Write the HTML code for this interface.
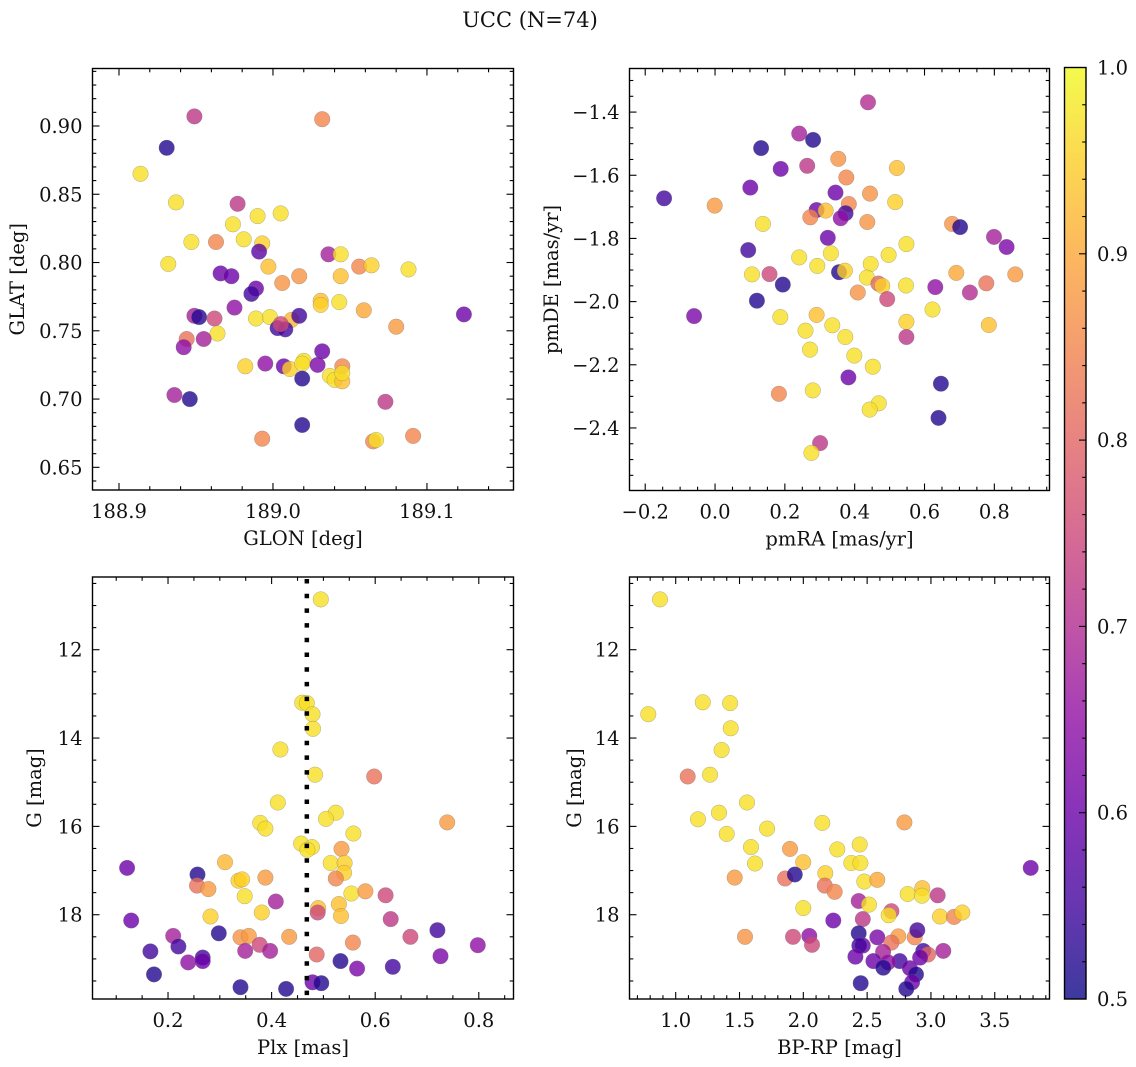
<!DOCTYPE html>
<html><head><meta charset="utf-8">
<style>
html,body{margin:0;padding:0;background:#fff;}
svg{display:block;font-family:"DejaVu Serif","Liberation Serif",serif;}
</style></head>
<body>
<svg id="fig" width="1136" height="1067" viewBox="0 0 1136 1067" xmlns="http://www.w3.org/2000/svg">
<rect width="1136" height="1067" fill="#fff"/>
<text x="530" y="27" text-anchor="middle" font-size="21" fill="#111">UCC (N=74)</text>
</svg>
<script>
// ---------- data ----------
const glon = [188.949,189.032,188.931,188.914,188.937,188.977,188.990,189.005,188.974,188.947,188.963,188.981,188.993,188.991,189.036,189.044,188.932,188.997,189.056,189.064,189.088,188.966,188.973,189.017,189.044,189.006,188.989,188.986,189.031,189.031,189.043,188.975,189.059,189.124,188.949,188.952,188.962,188.989,188.998,189.012,189.017,189.003,189.008,189.005,189.080,188.964,188.944,188.955,188.942,189.032,188.982,188.995,189.007,189.011,189.020,189.019,189.029,189.045,189.037,189.040,189.045,189.045,189.019,188.936,188.946,189.073,189.019,188.993,189.065,189.067,189.091];
const glat = [0.907,0.905,0.884,0.865,0.844,0.843,0.834,0.836,0.828,0.815,0.815,0.817,0.814,0.808,0.806,0.806,0.799,0.797,0.797,0.798,0.795,0.792,0.790,0.790,0.790,0.785,0.781,0.777,0.772,0.769,0.771,0.767,0.765,0.762,0.761,0.760,0.759,0.759,0.760,0.758,0.761,0.752,0.751,0.755,0.753,0.748,0.744,0.744,0.738,0.735,0.724,0.726,0.724,0.722,0.728,0.726,0.725,0.724,0.717,0.714,0.713,0.719,0.715,0.703,0.700,0.698,0.681,0.671,0.669,0.670,0.673];
const prob1 = [0.72,0.85,0.52,0.97,0.97,0.72,0.97,0.97,0.97,0.97,0.85,0.97,0.95,0.58,0.68,0.97,0.97,0.93,0.85,0.95,0.97,0.6,0.6,0.87,0.93,0.87,0.6,0.55,0.93,0.95,0.97,0.65,0.9,0.6,0.68,0.52,0.75,0.97,0.97,0.92,0.55,0.55,0.55,0.75,0.88,0.97,0.82,0.68,0.65,0.6,0.95,0.65,0.6,0.95,0.97,0.97,0.62,0.85,0.97,0.97,0.93,0.97,0.52,0.68,0.52,0.72,0.52,0.85,0.85,0.97,0.85];

const pmra = [0.438,0.241,0.281,0.132,0.353,0.188,0.264,0.521,0.376,0.101,-0.146,0.345,0.444,-0.001,0.516,0.291,0.317,0.383,0.374,0.273,0.360,0.436,0.137,0.679,0.702,0.323,0.799,0.835,0.095,0.548,0.241,0.332,0.497,0.293,0.446,0.355,0.372,0.106,0.156,0.691,0.860,0.435,0.194,0.468,0.479,0.547,0.631,0.777,0.409,0.730,0.493,0.120,-0.060,0.187,0.291,0.623,0.259,0.336,0.548,0.784,0.373,0.548,0.272,0.399,0.452,0.382,0.647,0.183,0.280,0.469,0.443,0.640,0.301,0.276];
const pmde = [-1.369,-1.468,-1.488,-1.514,-1.548,-1.580,-1.570,-1.577,-1.607,-1.639,-1.673,-1.655,-1.658,-1.696,-1.685,-1.710,-1.712,-1.691,-1.720,-1.733,-1.736,-1.748,-1.754,-1.754,-1.764,-1.798,-1.795,-1.827,-1.837,-1.818,-1.860,-1.847,-1.852,-1.887,-1.881,-1.907,-1.902,-1.914,-1.913,-1.909,-1.914,-1.924,-1.946,-1.943,-1.950,-1.949,-1.954,-1.942,-1.971,-1.971,-1.992,-1.997,-2.046,-2.049,-2.042,-2.025,-2.092,-2.075,-2.064,-2.074,-2.112,-2.112,-2.152,-2.171,-2.206,-2.240,-2.260,-2.292,-2.281,-2.322,-2.342,-2.368,-2.448,-2.479];
const prob2 = [0.7,0.68,0.52,0.52,0.87,0.6,0.72,0.93,0.85,0.6,0.55,0.6,0.87,0.88,0.95,0.6,0.93,0.85,0.55,0.85,0.65,0.87,0.97,0.87,0.52,0.6,0.68,0.62,0.55,0.97,0.97,0.97,0.97,0.97,0.97,0.52,0.95,0.97,0.75,0.9,0.88,0.97,0.52,0.8,0.95,0.97,0.65,0.82,0.87,0.7,0.75,0.52,0.62,0.97,0.93,0.97,0.97,0.97,0.95,0.93,0.97,0.72,0.97,0.97,0.97,0.6,0.52,0.85,0.97,0.97,0.97,0.52,0.72,0.97];

const plx = [0.495,0.459,0.468,0.479,0.480,0.417,0.484,0.598,0.412,0.739,0.378,0.388,0.524,0.505,0.558,0.457,0.478,0.469,0.535,0.514,0.541,0.540,0.524,0.121,0.310,0.257,0.256,0.278,0.336,0.343,0.388,0.348,0.554,0.581,0.620,0.408,0.530,0.490,0.489,0.534,0.381,0.282,0.129,0.630,0.210,0.298,0.340,0.356,0.434,0.668,0.720,0.798,0.220,0.166,0.377,0.349,0.397,0.557,0.487,0.726,0.239,0.267,0.267,0.533,0.565,0.634,0.173,0.340,0.428,0.479,0.496];
const gmag3 = [10.86,13.20,13.21,13.46,13.79,14.26,14.83,14.87,15.46,15.91,15.92,16.05,15.69,15.83,16.16,16.39,16.47,16.53,16.51,16.83,16.83,17.05,17.18,16.94,16.81,17.09,17.34,17.42,17.23,17.20,17.16,17.58,17.52,17.47,17.56,17.70,17.76,17.85,17.95,18.03,17.95,18.04,18.13,18.10,18.48,18.42,18.51,18.48,18.50,18.50,18.35,18.69,18.72,18.83,18.68,18.82,18.82,18.63,18.90,18.94,19.08,18.97,19.05,19.05,19.22,19.18,19.35,19.64,19.68,19.53,19.55];
const prob3 = [0.97,0.97,0.97,0.97,0.97,0.97,0.97,0.82,0.97,0.88,0.97,0.97,0.97,0.97,0.97,0.97,0.97,0.97,0.88,0.97,0.95,0.95,0.85,0.6,0.92,0.52,0.82,0.88,0.95,0.95,0.88,0.97,0.97,0.88,0.75,0.68,0.93,0.93,0.75,0.93,0.95,0.95,0.6,0.72,0.68,0.52,0.87,0.88,0.88,0.75,0.55,0.65,0.55,0.55,0.75,0.68,0.68,0.85,0.8,0.62,0.65,0.55,0.6,0.52,0.62,0.55,0.52,0.52,0.52,0.6,0.52];

const bprp = [0.877,0.785,1.212,1.426,1.431,1.360,1.094,1.269,1.559,1.175,1.339,1.400,1.716,2.149,2.792,1.590,1.621,1.896,2.266,2.442,1.999,2.376,2.447,1.462,1.857,1.933,2.172,2.168,2.246,2.478,2.580,2.818,2.932,2.930,3.053,3.782,2.434,2.515,2.000,2.690,2.669,3.071,3.181,3.246,2.235,2.466,1.543,1.919,2.047,2.068,2.434,2.580,2.744,2.873,2.893,2.690,2.466,2.439,2.625,3.097,2.940,2.977,2.408,2.549,2.755,2.915,2.664,2.627,2.835,2.883,2.852,2.450,2.807];
const gmag4 = [10.86,13.46,13.19,13.21,13.78,14.27,14.87,14.83,15.46,15.84,15.69,16.17,16.05,15.92,15.91,16.47,16.84,16.51,16.52,16.41,16.81,16.83,16.83,17.16,17.18,17.09,17.06,17.34,17.48,17.25,17.21,17.53,17.40,17.57,17.56,16.94,17.69,17.77,17.85,17.92,18.01,18.04,18.05,17.95,18.13,18.10,18.50,18.50,18.48,18.68,18.42,18.51,18.49,18.51,18.35,18.63,18.70,18.70,18.84,18.82,18.82,18.90,18.95,19.05,19.05,18.97,19.08,19.20,19.21,19.35,19.53,19.55,19.68];
const prob4 = [0.97,0.97,0.97,0.97,0.97,0.97,0.82,0.97,0.97,0.97,0.97,0.97,0.97,0.97,0.88,0.97,0.97,0.88,0.97,0.97,0.93,0.97,0.97,0.88,0.82,0.52,0.95,0.82,0.85,0.97,0.9,0.97,0.93,0.97,0.72,0.6,0.68,0.97,0.97,0.75,0.97,0.95,0.85,0.95,0.6,0.72,0.87,0.75,0.65,0.75,0.52,0.62,0.88,0.85,0.55,0.82,0.6,0.55,0.68,0.68,0.55,0.8,0.6,0.6,0.55,0.6,0.65,0.52,0.6,0.52,0.6,0.52,0.52];

const plxLine = 0.468;
const cbarTicks = [0.5,0.6,0.7,0.8,0.9,1.0];

// ---------- rendering ----------
const NS = 'http://www.w3.org/2000/svg';
const svg = document.getElementById('fig');
const FS = 19.5;
const plasma = [[13,8,135],[65,4,157],[106,0,168],[143,13,164],[177,42,144],[204,71,120],[225,100,98],[242,132,75],[252,166,54],[252,206,37],[240,249,33]];
function cmap(p){
  let t = Math.max(0, Math.min(1, (p-0.5)/0.5)) * 10;
  let i = Math.min(9, Math.floor(t)), f = t - i;
  const a = plasma[i], b = plasma[i+1];
  return 'rgb(' + [0,1,2].map(k => Math.round(a[k]+(b[k]-a[k])*f)).join(',') + ')';
}
function el(tag, attrs, parent){
  const e = document.createElementNS(NS, tag);
  for (const k in attrs) e.setAttribute(k, attrs[k]);
  (parent || svg).appendChild(e);
  return e;
}
function fmt(v, d){ const s = v.toFixed(d); return s.replace('-', '\u2212'); }

function panel(cfg, xs, ys, ps){
  const [X0,Y0,X1,Y1] = cfg.box;
  const g = el('g', {});
  
  
  const sx = v => X0 + (v - cfg.xlim[0])/(cfg.xlim[1]-cfg.xlim[0])*(X1-X0);
  const sy = v => cfg.yinv ? Y0 + (v - cfg.ylim[0])/(cfg.ylim[1]-cfg.ylim[0])*(Y1-Y0)
                           : Y1 - (v - cfg.ylim[0])/(cfg.ylim[1]-cfg.ylim[0])*(Y1-Y0);
  const pts = el('g', {}, g);
  
  
  for (let i = 0; i < xs.length; i++){
    const c = el('circle', {cx: sx(xs[i]).toFixed(1), cy: sy(ys[i]).toFixed(1), r: 7.8, fill: cmap(ps[i]), 'fill-opacity': 0.8, stroke: '#777', 'stroke-width': 0.4, 'stroke-opacity': 0.7}, pts);
    
    
  }
  if (cfg.vline !== undefined){
    const l = el('line', {x1: sx(cfg.vline), x2: sx(cfg.vline), y1: Y0+2, y2: Y1, stroke: '#000', 'stroke-width': 4.5, 'stroke-dasharray': '4.5 10.2'}, g);
    
    
  }
  const tk = el('g', {stroke: '#000', 'stroke-width': 1.1}, g);
  
  
  const isMaj = (v, arr) => arr.some(m => Math.abs(m - v) < 1e-6);
  function ticksX(vals, len){
    vals.forEach(v => { const x = sx(v); if (x < X0-0.5 || x > X1+0.5) return;
      el('line', {x1:x, x2:x, y1:Y1, y2:Y1-len}, tk); el('line', {x1:x, x2:x, y1:Y0, y2:Y0+len}, tk); });
  }
  function ticksY(vals, len){
    vals.forEach(v => { const y = sy(v); if (y < Y0-0.5 || y > Y1+0.5) return;
      el('line', {x1:X0, x2:X0+len, y1:y, y2:y}, tk); el('line', {x1:X1, x2:X1-len, y1:y, y2:y}, tk); });
  }
  const minors = (lim, step, maj) => { const out=[]; const a=Math.min(...lim), b=Math.max(...lim);
    for (let k=Math.ceil(a/step-1e-9); k<=Math.floor(b/step+1e-9); k++){ const v=k*step; if(!isMaj(v,maj)) out.push(v);} return out; };
  ticksX(cfg.xt, 7); ticksX(minors(cfg.xlim, cfg.xm, cfg.xt), 3.8);
  ticksY(cfg.yt, 7); ticksY(minors(cfg.ylim, cfg.ym, cfg.yt), 3.8);
  const fr = el('rect', {x:X0, y:Y0, width:X1-X0, height:Y1-Y0, fill:'none', stroke:'#000', 'stroke-width':1.4}, g);
  
  
  cfg.xt.forEach(v => { const t = el('text', {x: sx(v), y: Y1+28, 'text-anchor':'middle', 'font-size':FS, fill:'#111'}, g);
    t.textContent = fmt(v, cfg.xd);
    
     });
  cfg.yt.forEach(v => { const t = el('text', {x: X0-10, y: sy(v)+7, 'text-anchor':'end', 'font-size':FS, fill:'#111'}, g);
    t.textContent = fmt(v, cfg.yd);
    
     });
  const xl = el('text', {x:(X0+X1)/2, y:Y1+55, 'text-anchor':'middle', 'font-size':FS, fill:'#111'}, g);
  xl.textContent = cfg.xlabel;
  
  
  const yc = (Y0+Y1)/2;
  const yl = el('text', {x:cfg.ylx, y:yc, 'text-anchor':'middle', 'font-size':FS, fill:'#111', transform:'rotate(-90 '+cfg.ylx+' '+yc+')'}, g);
  yl.textContent = cfg.ylabel;
  
  
}

panel({name:'glon-glat-panel', box:[92.5,68.5,513.5,490], xlim:[188.8828,189.1562], ylim:[0.6334,0.9421],
  xt:[188.9,189.0,189.1], xm:0.02, xd:1, yt:[0.65,0.70,0.75,0.80,0.85,0.90], ym:0.01, yd:2,
  xlabel:'GLON [deg]', ylabel:'GLAT [deg]', ylx:24}, glon, glat, prob1);
panel({name:'pm-panel', box:[629.5,68.5,1049.5,490.5], xlim:[-0.245,0.958], ylim:[-2.598,-1.262],
  xt:[-0.2,0,0.2,0.4,0.6,0.8], xm:0.05, xd:1, yt:[-2.4,-2.2,-2.0,-1.8,-1.6,-1.4], ym:0.05, yd:1,
  xlabel:'pmRA [mas/yr]', ylabel:'pmDE [mas/yr]', ylx:558}, pmra, pmde, prob2);
panel({name:'plx-g-panel', box:[92.5,577,513.5,999], xlim:[0.0542,0.867], ylim:[10.354,19.908], yinv:true,
  xt:[0.2,0.4,0.6,0.8], xm:0.05, xd:1, yt:[12,14,16,18], ym:0.5, yd:0, vline:plxLine,
  xlabel:'Plx [mas]', ylabel:'G [mag]', ylx:41}, plx, gmag3, prob3);
panel({name:'cmd-panel', box:[629.5,577,1049.5,999], xlim:[0.638,3.929], ylim:[10.354,19.908], yinv:true,
  xt:[1.0,1.5,2.0,2.5,3.0,3.5], xm:0.1, xd:1, yt:[12,14,16,18], ym:0.5, yd:0,
  xlabel:'BP-RP [mag]', ylabel:'G [mag]', ylx:581}, bprp, gmag4, prob4);

// ---------- colorbar ----------
const cb = el('g', {});


const CX0 = 1064.5, CX1 = 1086, CY0 = 67.5, CY1 = 999;
const defs = el('defs', {}, cb);
const grad = el('linearGradient', {id:'cbg', x1:0, y1:1, x2:0, y2:0}, defs);
for (let i = 0; i <= 10; i++){
  el('stop', {offset: i/10, 'stop-color': cmap(0.5 + i*0.05), 'stop-opacity': 0.8}, grad);
}
el('rect', {x:CX0, y:CY0, width:CX1-CX0, height:CY1-CY0, fill:'url(#cbg)'}, cb);
const cs = v => CY1 - (v-0.5)/0.5*(CY1-CY0);
for (let k = 25; k <= 50; k++){
  const v = k*0.02, y = cs(v);
  const maj = cbarTicks.some(m => Math.abs(m-v) < 1e-6);
  if (y <= CY0+0.5 || y >= CY1-0.5) continue;
  el('line', {x1:CX1, x2:CX1-(maj?7:3.8), y1:y, y2:y, stroke:'#000', 'stroke-width':1.1}, cb);
}
el('rect', {x:CX0, y:CY0, width:CX1-CX0, height:CY1-CY0, fill:'none', stroke:'#000', 'stroke-width':1.4}, cb);
cbarTicks.forEach(v => {
  const t = el('text', {x:1097, y:cs(v)+7, 'font-size':FS, fill:'#111'}, cb);
  t.textContent = v.toFixed(1);
  
  
});
</script>
</body></html>
